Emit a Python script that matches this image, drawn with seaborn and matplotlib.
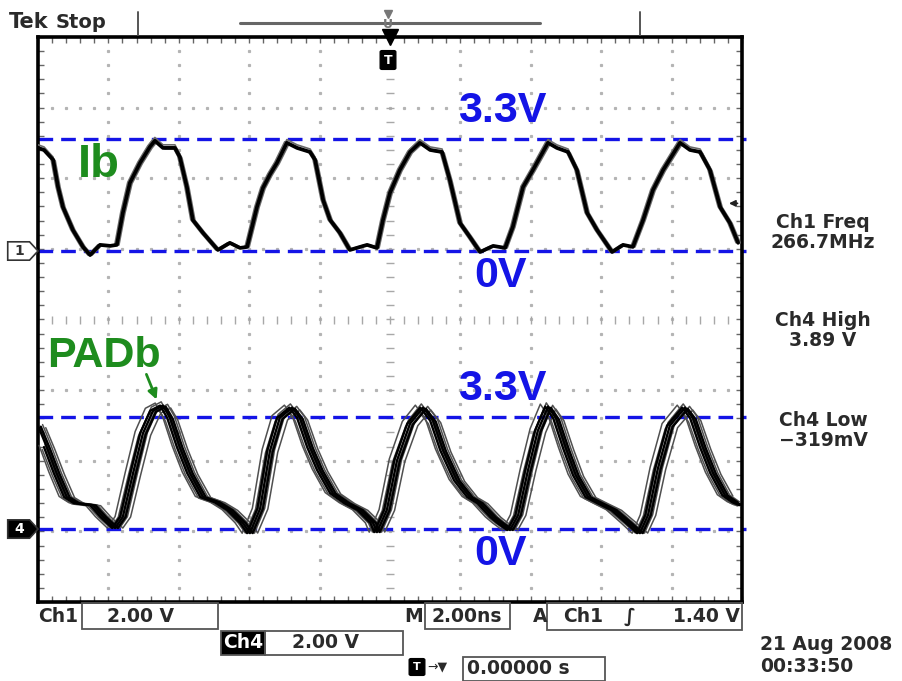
import numpy as np
import pandas as pd
import matplotlib
matplotlib.use("Agg")
import matplotlib.pyplot as plt
import seaborn as sns
from matplotlib.patches import Rectangle, Polygon, FancyBboxPatch
from matplotlib.lines import Line2D
from matplotlib.transforms import blended_transform_factory

# ---- captured waveforms (time in ns, level in V) ----
ch1_t = [-10.00, -9.83, -9.57, -9.43, -9.29, -9.01, -8.72, -8.52, -8.24, -7.95,
         -7.76, -7.59, -7.39, -7.10, -6.82, -6.68, -6.45, -6.11, -5.97, -5.77,
         -5.60, -5.31, -4.89, -4.55, -4.26, -4.06, -3.78, -3.61, -3.41, -3.21,
         -2.93, -2.64, -2.27, -2.13, -1.90, -1.70, -1.42, -1.14, -0.85, -0.65,
         -0.37, -0.20, 0.00, 0.28, 0.57, 0.85, 1.14, 1.48, 1.70, 1.99,
         2.27, 2.56, 2.93, 3.27, 3.49, 3.78, 4.06, 4.49, 4.74, 5.06,
         5.31, 5.60, 5.88, 6.31, 6.62, 6.90, 7.19, 7.47, 7.76, 8.24,
         8.52, 8.81, 9.09, 9.38, 9.66, 9.89]
ch1_v = [3.03, 2.97, 2.68, 1.88, 1.29, 0.62, 0.12, -0.12, 0.18, 0.15,
         0.18, 1.12, 2.00, 2.59, 3.06, 3.24, 3.03, 3.03, 2.76, 1.88,
         0.91, 0.53, 0.03, 0.24, 0.09, 0.12, 1.29, 1.85, 2.25, 2.59,
         3.18, 3.03, 2.91, 2.68, 1.50, 0.91, 0.53, 0.03, 0.12, 0.18,
         0.09, 0.91, 1.71, 2.38, 2.91, 3.18, 2.97, 2.91, 2.09, 0.82,
         0.41, -0.03, 0.15, 0.09, 0.71, 1.88, 2.38, 3.18, 3.03, 2.91,
         2.38, 1.12, 0.62, -0.03, 0.18, 0.12, 0.91, 1.79, 2.38, 3.18,
         2.97, 2.91, 2.38, 1.29, 0.82, 0.24]

ch4_t = [-10.00, -9.75, -9.47, -9.18, -8.90, -8.44, -8.15, -7.81, -7.59, -7.30,
         -7.02, -6.73, -6.45, -6.25, -5.97, -5.68, -5.31, -4.91, -4.55, -4.18,
         -3.98, -3.69, -3.41, -3.13, -2.78, -2.56, -2.27, -1.99, -1.62, -1.22,
         -0.85, -0.48, -0.37, -0.09, 0.20, 0.57, 0.94, 1.22, 1.51, 1.90,
         2.27, 2.56, 2.93, 3.13, 3.41, 3.64, 3.92, 4.20, 4.49, 4.72,
         5.00, 5.28, 5.63, 5.97, 6.36, 6.76, 7.10, 7.33, 7.61, 7.95,
         8.38, 8.61, 8.89, 9.18, 9.52, 9.80, 10.00]
ch4_v = [3.04, 2.41, 1.64, 0.94, 0.76, 0.70, 0.36, 0.03, 0.36, 1.64,
         2.81, 3.48, 3.63, 3.27, 2.40, 1.64, 0.94, 0.79, 0.56, 0.18,
         -0.12, 0.60, 2.30, 3.27, 3.57, 3.27, 2.40, 1.73, 1.05, 0.76,
         0.56, 0.18, -0.09, 0.56, 2.02, 3.10, 3.57, 3.19, 2.31, 1.43,
         0.94, 0.76, 0.35, 0.18, -0.03, 0.41, 1.73, 2.89, 3.60, 3.25,
         2.37, 1.58, 0.94, 0.76, 0.56, 0.20, -0.12, 0.41, 1.78, 3.04,
         3.57, 3.25, 2.40, 1.64, 0.99, 0.79, 0.70]

# reference levels marked on the screen (V)
ref_levels = [0.0, 3.3]
ref_labels = ["0V", "3.3V"]
trig_level = 1.40

# readouts
measurements = [("Ch1 Freq", "266.7MHz"), ("Ch4 High", "3.89 V"), ("Ch4 Low", "\u2212319mV")]
ch1_scale = "2.00 V"
ch4_scale = "2.00 V"
timebase = "2.00ns"
trig_source = "Ch1"
trig_text = "1.40 V"
hpos = "0.00000 s"
date_str = "21 Aug 2008"
time_str = "00:33:50"

# ---- screen geometry ----
W, H = 903, 681
V_PER_DIV = 2.076          # displayed volts per vertical division
OFF1, OFF4 = 0.97, -2.967  # channel ground positions (divisions)
BLUE = "#1414e6"
GREEN = "#1e8c1e"
TXT = "#2a2a2a"

def fx(x):
    return x / W

def fy(y):
    return 1 - y / H

sns.set_style("white")
plt.rcParams["font.family"] = ["DejaVu Sans"]

fig = plt.figure(figsize=(W / 100, H / 100), dpi=100)
ax = fig.add_axes([fx(38), fy(602), 704 / W, 565 / H])
ax.set_xlim(-10, 10)
ax.set_ylim(-4, 4)

# ---- graticule ----
dot_kw = dict(color="#b4b4b4", marker="s", markersize=1.3, linestyle="none", zorder=1)
for gx in [-8, -6, -4, -2, 2, 4, 6, 8]:
    ys = np.arange(-4, 4.001, 0.2)
    ax.plot(np.full_like(ys, gx), ys, **dot_kw)
for gy in [-3, -2, -1, 1, 2, 3]:
    xs = np.arange(-10, 10.001, 0.4)
    ax.plot(xs, np.full_like(xs, gy), **dot_kw)
ys = np.arange(-4, 4.001, 0.2)
ax.plot(np.zeros_like(ys), ys, color="#a8a8a8", marker="_", markersize=6, linestyle="none", zorder=1)
xs = np.arange(-10, 10.001, 0.4)
ax.plot(xs, np.zeros_like(xs), color="#a8a8a8", marker="|", markersize=6, linestyle="none", zorder=1)

ax.set_xticks(np.arange(-10, 10.001, 0.4), minor=True)
ax.set_yticks(np.arange(-4, 4.001, 0.2), minor=True)
ax.set_xticks([])
ax.set_yticks([])
ax.tick_params(which="minor", direction="in", length=4, width=1, color="#666666",
               top=True, bottom=True, left=True, right=True,
               labelbottom=False, labelleft=False)
for sp in ax.spines.values():
    sp.set_linewidth(2.6)
    sp.set_color("black")

# ---- reference lines ----
for off in (OFF1, OFF4):
    for lv in ref_levels:
        ax.plot([-10, 10.1], [off + lv / V_PER_DIV] * 2, color=BLUE, lw=2.4,
                dashes=(4.4, 2.4), clip_on=False, zorder=2)

# ---- traces (with persistence sweeps) ----
def sweeps(t, v, off, shifts, gains):
    rows = []
    for i, (s, g) in enumerate(zip(shifts, gains)):
        for ti, vi in zip(t, v):
            rows.append((i, ti + s, off + g * vi / V_PER_DIV))
    return pd.DataFrame(rows, columns=["sweep", "t", "y"])

def clipdf(df):
    return df[(df.t >= -10) & (df.t <= 10)]

ghost1 = clipdf(sweeps(ch1_t, ch1_v, OFF1, [-0.06, 0.06, 0.0], [1.01, 0.99, 1.03]))
main1 = clipdf(sweeps(ch1_t, ch1_v, OFF1, [0.0], [1.0]))
ghost4 = clipdf(sweeps(ch4_t, ch4_v, OFF4, [-0.22, -0.13, -0.05, 0.05, 0.13, 0.22],
                       [1.02, 0.97, 1.03, 0.99, 1.01, 0.98]))
main4 = clipdf(sweeps(ch4_t, ch4_v, OFF4, [-0.08, 0.0, 0.08], [1.0, 1.0, 0.99]))

line_style = dict(estimator=None, sort=False, solid_joinstyle="round",
                  solid_capstyle="round", ax=ax)
sns.lineplot(data=ghost1, x="t", y="y", units="sweep", color="#6a6a6a", lw=1.2,
             zorder=3, **line_style)
sns.lineplot(data=main1, x="t", y="y", units="sweep", color="black", lw=2.7,
             zorder=4, **line_style)
sns.lineplot(data=ghost4, x="t", y="y", units="sweep", color="#505050", lw=1.1,
             zorder=3, **line_style)
sns.lineplot(data=main4, x="t", y="y", units="sweep", color="black", lw=1.7,
             zorder=4, **line_style)
ax.set_xlabel("")
ax.set_ylabel("")
ax.set_xlim(-10, 10)
ax.set_ylim(-4, 4)

# ---- level labels ----
lab_font = dict(family="Liberation Sans", weight="bold", color=BLUE, fontsize=31,
                ha="center", va="center", zorder=6)
for off in (OFF1, OFF4):
    ax.text(3.2, off + 3.3 / V_PER_DIV + 0.39, ref_labels[1], **lab_font)
    ax.text(3.13, off - 0.36, ref_labels[0], **lab_font)

ax.text(-8.27, 2.19, "Ib", family="Liberation Sans", weight="bold", color=GREEN,
        fontsize=34, ha="center", va="center", zorder=6)
ax.text(-8.12, -0.52, "PADb", family="Liberation Sans", weight="bold", color=GREEN,
        fontsize=31, ha="center", va="center", zorder=6)
ax.annotate("", xy=(-6.6, -1.17), xytext=(-6.95, -0.74),
            arrowprops=dict(arrowstyle="-|>", color=GREEN, lw=2, mutation_scale=14), zorder=6)

# trigger level marker
ax.annotate("", xy=(9.55, OFF1 + trig_level / V_PER_DIV),
            xytext=(9.95, OFF1 + trig_level / V_PER_DIV),
            arrowprops=dict(arrowstyle="-|>", color="#222222", lw=1.3, mutation_scale=9), zorder=6)

# channel ground markers
bt = blended_transform_factory(ax.transAxes, ax.transData)
for off, label, filled in ((OFF1, "1", False), (OFF4, "4", True)):
    pts = [(-0.043, off - 0.13), (-0.012, off - 0.13), (0.0, off),
           (-0.012, off + 0.13), (-0.043, off + 0.13)]
    poly = Polygon(pts, closed=True, transform=bt, clip_on=False,
                   fc="black" if filled else "white", ec="#333333", lw=1.2, zorder=7)
    ax.add_patch(poly)
    ax.text(-0.026, off, label, transform=bt, ha="center", va="center", fontsize=10,
            weight="bold", color="white" if filled else "#333333", zorder=8, clip_on=False)

# trigger position marker at the top
ax.plot([0], [4.0], marker="v", color="black", markersize=11, clip_on=False, zorder=8)
fig.add_artist(FancyBboxPatch((fx(382), fy(68)), 12 / W, 16 / H,
                              boxstyle="round,pad=0.002", fc="black", ec="black",
                              transform=fig.transFigure))
fig.text(fx(388), fy(60), "T", color="white", fontsize=9, weight="bold", ha="center", va="center")

# ---- header ----
fig.text(fx(9), fy(22), "Tek", fontsize=15, weight="bold", color=TXT, ha="left", va="center")
fig.text(fx(56), fy(22), "Stop", fontsize=14, weight="bold", color=TXT, ha="left", va="center")
fig.add_artist(Line2D([fx(240), fx(540)], [fy(23), fy(23)], color="#666666", lw=2.2))
for xv in (138, 640):
    fig.add_artist(Line2D([fx(xv), fx(xv)], [fy(12), fy(35)], color="#555555", lw=1.4))
fig.add_artist(Line2D([fx(388)], [fy(14)], marker="v", color="#777777", markersize=6))
fig.text(fx(388), fy(25), "U", fontsize=9, weight="bold", color="#777777", ha="center", va="center")

# ---- right-hand readouts ----
for (name, val), yc in zip(measurements, (222, 320, 420)):
    fig.text(fx(823), fy(yc), name, fontsize=13.5, weight="bold", color=TXT, ha="center", va="center")
    fig.text(fx(823), fy(yc + 21), val, fontsize=13.5, weight="bold", color=TXT, ha="center", va="center")

# ---- bottom status bar ----
def box(x0, y0, x1, y1, fill=False):
    fig.add_artist(Rectangle((fx(x0), fy(y1)), (x1 - x0) / W, (y1 - y0) / H,
                             transform=fig.transFigure, fill=fill,
                             fc="black" if fill else "none", ec="#555555", lw=1.3))

tk = dict(fontsize=13.5, weight="bold", color=TXT, va="center")
fig.text(fx(38), fy(616), "Ch1", ha="left", **tk)
box(82, 603, 218, 629)
fig.text(fx(141), fy(616), ch1_scale, ha="center", **tk)

box(221, 631, 265, 655, fill=True)
fig.text(fx(243), fy(643), "Ch4", ha="center", fontsize=13.5, weight="bold", color="white", va="center")
box(265, 631, 403, 655)
fig.text(fx(326), fy(643), ch4_scale, ha="center", **tk)

fig.text(fx(414), fy(616), "M", ha="center", **tk)
box(425, 603, 510, 629)
fig.text(fx(467), fy(616), timebase, ha="center", **tk)
fig.text(fx(540), fy(616), "A", ha="center", **tk)
box(547, 603, 742, 630)
fig.text(fx(583), fy(616), trig_source, ha="center", **tk)
fig.text(fx(630), fy(616), "\u222b", ha="center", fontsize=14, weight="bold", color=TXT, va="center")
fig.text(fx(706), fy(616), trig_text, ha="center", **tk)

fig.add_artist(FancyBboxPatch((fx(411), fy(674)), 12 / W, 14 / H,
                              boxstyle="round,pad=0.002", fc="black", ec="black",
                              transform=fig.transFigure))
fig.text(fx(417), fy(667), "T", color="white", fontsize=8, weight="bold", ha="center", va="center")
fig.text(fx(427), fy(667), "\u2192\u25bc", fontsize=9, color=TXT, ha="left", va="center")
box(463, 657, 605, 681)
fig.text(fx(467), fy(668), hpos, ha="left", **tk)

fig.text(fx(760), fy(645), date_str, ha="left", **tk)
fig.text(fx(760), fy(667), time_str, ha="left", **tk)

fig.savefig("out.png", dpi=100, facecolor="white")
